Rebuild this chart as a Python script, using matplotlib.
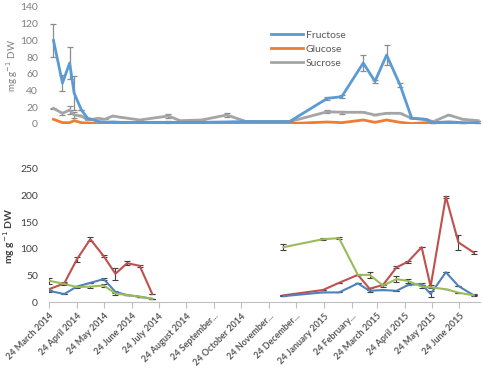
import numpy as np
import pandas as pd
import matplotlib
matplotlib.use("Agg")
import matplotlib.pyplot as plt
from matplotlib.lines import Line2D

plt.rcParams["font.family"] = ["Lato", "DejaVu Sans"]

# ---- top panel data (mg g-1 DW) ----
top_dates = ["2014-03-29", "2014-04-08", "2014-04-16", "2014-04-21", "2014-04-29",
             "2014-05-06", "2014-05-18", "2014-05-25", "2014-06-03", "2014-06-12",
             "2014-07-03", "2014-08-04", "2014-08-17", "2014-09-10", "2014-10-08",
             "2014-10-30", "2014-12-17", "2015-01-28", "2015-02-13", "2015-03-09",
             "2015-03-22", "2015-04-04", "2015-04-19", "2015-05-02", "2015-05-17",
             "2015-05-26", "2015-06-12", "2015-06-28", "2015-07-15"]
fructose = [100, 49, 73, 37, 17, 6.8, 3, 2, 2.5, 2, 2, 2, 2, 2, 2.5, 3, 3,
            30.7, 32.7, 73, 51, 82.5, 46.6, 6.8, 5.6, 1.6, 2.6, 1.6, 1.6]
fructose_err = [20, 10, 19, 20, 0, 0, 0, 0, 0, 0, 0, 1, 0, 0, 0, 0, 0,
                2, 2, 10, 2, 12, 2, 0, 0, 0, 0, 0, 0]
glucose = [5.6, 1.6, 1.6, 4, 1.6, 1, 0.5, 0.5, 0.5, 0.5, 0.5, 0.5, 0.5, 0.5, 0.5, 0.5, 0.5,
           2.4, 1.6, 4.8, 2, 4.8, 2, 0.5, 1.6, 1.6, 1.6, 1, np.nan]
sucrose = [18.7, 12.8, 16.7, 10.8, 9.6, 4.8, 6.8, 5.6, 9.6, 8, 4.8, 9.6, 4, 4.8, 10.8, 2.8, 2.8,
           14.7, 14, 14, 10.8, 12.8, 12.8, 6.8, 5.6, 2.8, 10.8, 5.6, 4]
sucrose_err = [1, 2, 5, 4, 0, 0, 0, 0, 0, 0, 0, 2, 0, 0, 2, 0, 0,
               2, 2, 0, 0, 0, 0, 0, 0, 0, 0, 0, 0]

# ---- bottom panel data ----
bot_dates = ["2014-03-24", "2014-04-10", "2014-04-24", "2014-05-09", "2014-05-24",
             "2014-06-06", "2014-06-19", "2014-07-03", "2014-07-17",
             "2014-12-10", "2015-01-23", "2015-02-10", "2015-03-03", "2015-03-16",
             "2015-03-31", "2015-04-15", "2015-04-28", "2015-05-13", "2015-05-23",
             "2015-06-09", "2015-06-23", "2015-07-10"]
red = [24, 35, 80, 118, 86, 53, 73, 68, 15,
       12.5, 22.5, 36, 51, 25, 32, 65, 76, 103, 29, 198, 112, 93]
red_err = [2, 2, 5, 4, 2, 11, 4, 2, 0,
           0, 0, 0, 0, 2, 0, 2, 2, 0, 3, 2, 14, 3]
blue = [21, 15, 29, 36, 43, 19, 13, 10, 6,
        11, 18, 18, 35, 21, 22.5, 21, 32, 34, 15, 56, 30, 12.5]
blue_err = [2, 0, 0, 0, 2, 2, 0, 0, 0,
            0, 0, 0, 0, 2, 0, 0, 0, 2, 5, 0, 0, 2]
green = [40, 34, 28, 29, 31, 16, 13, 10, 6,
         103, 118, 120, 51, 51, 31, 43, 39.5, 29, 27.6, 24, 17.5, 12.5]
green_err = [6, 2, 2, 2, 3, 3, 0, 0, 0,
             6, 2, 2, 0, 5, 3, 5, 4, 3, 0, 0, 0, 0]

tick_dates = ["2014-03-24", "2014-04-24", "2014-05-24", "2014-06-24", "2014-07-24",
              "2014-08-24", "2014-09-24", "2014-10-24", "2014-11-24", "2014-12-24",
              "2015-01-24", "2015-02-24", "2015-03-24", "2015-04-24", "2015-05-24",
              "2015-06-24"]
tick_labels = ["24 March 2014", "24 April 2014", "24 May 2014", "24 June 2014",
               "24 July 2014", "24 August 2014", "24 September...", "24 October 2014",
               "24 November...", "24 December...", "24 January 2015", "24 February...",
               "24 March 2015", "24 April 2015", "24 May 2015", "24 June 2015"]

xt = pd.to_datetime(top_dates)
xb = pd.to_datetime(bot_dates)
xlim = (pd.Timestamp("2014-03-24"), pd.Timestamp("2015-07-17"))

fig = plt.figure(figsize=(4.83, 3.68), dpi=100)

# top panel
ax1 = fig.add_axes([49 / 483, 1 - 124 / 368, 431 / 483, 117 / 368])
ebkw = dict(ecolor="#8c8c8c", elinewidth=0.9, capsize=2, capthick=0.9)
ax1.errorbar(xt, fructose, yerr=fructose_err, color="#5B9BD5", lw=2, zorder=3, **ebkw)
ax1.plot(xt, glucose, color="#ED7D31", lw=2, zorder=2)
ax1.errorbar(xt, sucrose, yerr=sucrose_err, color="#A5A5A5", lw=2, zorder=1, **ebkw)
ax1.set_xlim(xlim)
ax1.set_ylim(0, 140)
ax1.set_yticks(range(0, 141, 20))
ax1.set_xticks([])
for s in ax1.spines.values():
    s.set_visible(False)
ax1.tick_params(axis="y", length=0, labelsize=7.5, labelcolor="#7f7f7f", pad=8)
ax1.set_ylabel("mg g$^{-1}$ DW", fontsize=7, color="#7f7f7f")
ax1.yaxis.set_label_coords(-0.067, 0.5)
handles = [Line2D([], [], color=c, lw=2) for c in ["#5B9BD5", "#ED7D31", "#A5A5A5"]]
ax1.legend(handles, ["Fructose", "Glucose", "Sucrose"], loc="upper left",
           bbox_to_anchor=(262 / 483, 1 - 21 / 368), bbox_transform=fig.transFigure,
           frameon=False, fontsize=7.5, handlelength=3.0, handletextpad=0.3,
           labelspacing=0.45, labelcolor="#595959")

# bottom panel
ax2 = fig.add_axes([49 / 483, 1 - 302 / 368, 431 / 483, 133 / 368])
ebkw2 = dict(ecolor="#404040", elinewidth=0.8, capsize=2, capthick=0.8)
for vals, errs, col in [(red, red_err, "#C0504D"), (blue, blue_err, "#4F81BD"),
                        (green, green_err, "#9BBB59")]:
    ax2.errorbar(xb[:9], vals[:9], yerr=errs[:9], color=col, lw=1.5, **ebkw2)
    ax2.errorbar(xb[9:], vals[9:], yerr=errs[9:], color=col, lw=1.5, **ebkw2)
ax2.set_xlim(xlim)
ax2.set_ylim(0, 250)
ax2.set_yticks(range(0, 251, 50))
ax2.set_xticks(pd.to_datetime(tick_dates))
ax2.set_xticklabels(tick_labels, rotation=45, ha="right", rotation_mode="anchor",
                    fontsize=6.5, color="#595959", fontweight="bold")
for k in ["top", "right", "left"]:
    ax2.spines[k].set_visible(False)
ax2.spines["bottom"].set_color("#bfbfbf")
ax2.tick_params(axis="x", length=4, color="#bfbfbf", pad=3)
ax2.tick_params(axis="y", length=0, labelsize=7.5, labelcolor="#404040", pad=8)
ax2.set_ylabel("mg g$^{-1}$ DW", fontsize=7.5, color="#404040", fontweight="bold")
ax2.yaxis.set_label_coords(-0.075, 0.5)

fig.savefig("out.png", dpi=100)
